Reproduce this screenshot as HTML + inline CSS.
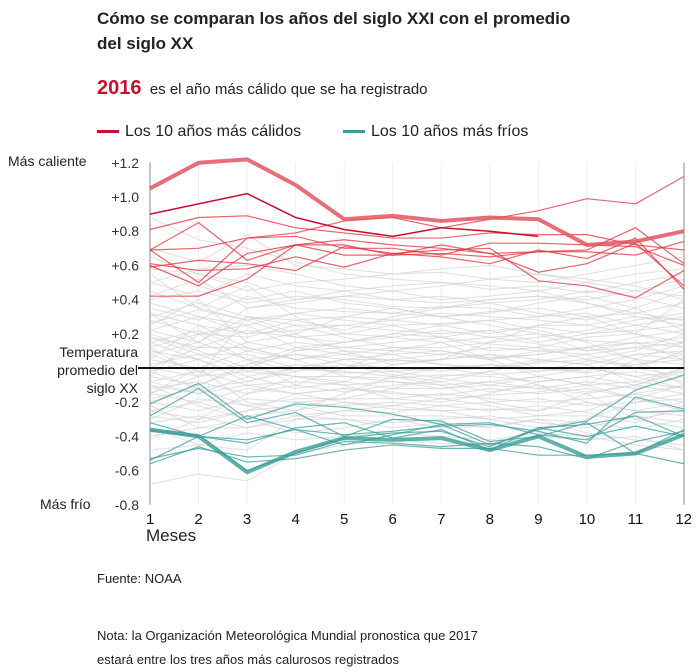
<!DOCTYPE html>
<html><head><meta charset="utf-8"><style>
body{margin:0;background:#fff;width:700px;height:668px;overflow:hidden;font-family:"Liberation Sans",Arial,sans-serif;color:#222;}
.t{position:absolute;white-space:nowrap}
</style></head><body>
<div class="t" style="left:97px;top:6px;font-size:17px;font-weight:bold;line-height:25px;">Cómo se comparan los años del siglo XXI con el promedio<br>del siglo XX</div>
<div class="t" style="left:97px;top:77px;font-size:15px;"><span style="color:#c8102e;font-weight:bold;font-size:20px;">2016</span>&nbsp; es el año más cálido que se ha registrado</div>
<div class="t" style="left:97px;top:123px;font-size:16px;"><span style="display:inline-block;width:22px;height:3px;background:#c8102e;vertical-align:middle;margin-right:6px;"></span>Los 10 años más cálidos</div>
<div class="t" style="left:343px;top:123px;font-size:16px;"><span style="display:inline-block;width:22px;height:3px;background:#3a9d99;vertical-align:middle;margin-right:6px;"></span>Los 10 años más fríos</div>
<div class="t" style="left:8px;top:153px;font-size:14px;">Más caliente</div>
<div class="t" style="right:562px;top:343px;font-size:14px;text-align:right;line-height:18px;">Temperatura<br>promedio del<br>siglo XX</div>
<div class="t" style="left:40px;top:496px;font-size:14px;">Más frío</div>
<div class="t" style="left:146px;top:526px;font-size:17px;">Meses</div>
<div class="t" style="left:97px;top:571px;font-size:13px;">Fuente: NOAA</div>
<div class="t" style="left:97px;top:624px;font-size:13px;line-height:24px;">Nota: la Organización Meteorológica Mundial pronostica que 2017<br>estará entre los tres años más calurosos registrados</div>
<svg id="c" width="700" height="668" style="position:absolute;left:0;top:0"></svg>
<script>
const months=[1,2,3,4,5,6,7,8,9,10,11,12];
const yTicks=[1.2,1.0,0.8,0.6,0.4,0.2,-0.2,-0.4,-0.6,-0.8];
const yTickLabels=["+1.2","+1.0","+0.8","+0.6","+0.4","+0.2","-0.2","-0.4","-0.6","-0.8"];
const gray=[
[0.88,0.75,0.70,0.62,0.55,0.52,0.50,0.48,0.45,0.50,0.55,0.58],
[0.70,0.62,0.78,0.60,0.58,0.55,0.56,0.52,0.55,0.52,0.48,0.40],
[0.58,0.55,0.45,0.50,0.52,0.55,0.58,0.60,0.55,0.50,0.45,0.42],
[0.50,0.42,0.55,0.48,0.45,0.48,0.50,0.46,0.48,0.44,0.50,0.55],
[0.40,0.45,0.38,0.42,0.40,0.36,0.35,0.38,0.40,0.45,0.42,0.35],
[0.35,0.28,0.42,0.35,0.33,0.32,0.30,0.33,0.35,0.30,0.32,0.38],
[0.30,0.38,0.30,0.28,0.30,0.28,0.32,0.30,0.28,0.25,0.30,0.28],
[0.28,0.20,0.25,0.32,0.28,0.25,0.26,0.28,0.30,0.32,0.25,0.20],
[0.22,0.30,0.20,0.22,0.25,0.22,0.20,0.22,0.24,0.20,0.22,0.25],
[0.18,0.12,0.22,0.18,0.20,0.18,0.15,0.18,0.20,0.16,0.14,0.18],
[0.15,0.22,0.10,0.15,0.12,0.15,0.18,0.14,0.12,0.18,0.20,0.12],
[0.10,0.05,0.15,0.10,0.12,0.10,0.08,0.12,0.10,0.08,0.12,0.15],
[0.08,0.15,0.05,0.08,0.05,0.08,0.10,0.06,0.08,0.12,0.05,0.02],
[0.05,0.00,0.10,0.05,0.08,0.04,0.05,0.08,0.05,0.02,0.08,0.10],
[0.02,0.08,-0.02,0.02,0.00,0.05,0.02,0.00,0.03,0.05,0.00,-0.05],
[0.00,-0.05,0.05,-0.02,0.02,0.00,-0.02,0.02,0.00,-0.03,0.02,0.05],
[-0.02,0.05,-0.05,0.00,-0.03,-0.02,0.00,-0.04,-0.02,0.00,-0.05,-0.02],
[-0.05,-0.10,0.00,-0.05,-0.05,-0.06,-0.04,-0.05,-0.08,-0.05,-0.02,-0.08],
[-0.08,-0.02,-0.10,-0.08,-0.10,-0.08,-0.10,-0.08,-0.05,-0.10,-0.08,-0.12],
[-0.10,-0.15,-0.05,-0.12,-0.08,-0.12,-0.12,-0.10,-0.12,-0.08,-0.12,-0.05],
[-0.12,-0.08,-0.15,-0.10,-0.14,-0.10,-0.08,-0.14,-0.10,-0.14,-0.10,-0.15],
[-0.15,-0.20,-0.12,-0.15,-0.12,-0.15,-0.16,-0.12,-0.15,-0.12,-0.18,-0.10],
[-0.18,-0.12,-0.22,-0.18,-0.18,-0.18,-0.15,-0.18,-0.20,-0.18,-0.15,-0.20],
[-0.20,-0.25,-0.18,-0.20,-0.22,-0.20,-0.22,-0.20,-0.18,-0.22,-0.20,-0.18],
[-0.25,-0.20,-0.28,-0.25,-0.20,-0.24,-0.25,-0.24,-0.25,-0.20,-0.25,-0.28],
[-0.28,-0.32,-0.25,-0.22,-0.28,-0.28,-0.28,-0.30,-0.28,-0.28,-0.30,-0.25],
[-0.32,-0.28,-0.35,-0.30,-0.30,-0.32,-0.30,-0.28,-0.32,-0.35,-0.28,-0.32],
[-0.40,-0.35,-0.30,-0.38,-0.35,-0.30,-0.35,-0.34,-0.30,-0.32,-0.36,-0.30],
[-0.48,-0.45,-0.38,-0.42,-0.40,-0.38,-0.40,-0.42,-0.38,-0.40,-0.45,-0.48],
[-0.68,-0.62,-0.66,-0.50,-0.45,-0.42,-0.44,-0.45,-0.40,-0.42,-0.40,-0.48],
[0.45,0.35,0.48,0.30,0.20,0.25,0.18,0.22,0.15,0.20,0.25,0.30],
[0.25,0.40,0.15,0.20,0.30,0.35,0.30,0.25,0.20,0.10,0.15,0.05],
[0.12,-0.05,0.30,0.20,0.10,0.02,0.05,0.15,0.25,0.30,0.20,0.40],
[-0.05,0.20,0.05,-0.10,0.00,0.10,0.15,0.05,-0.05,-0.10,0.05,0.15],
[0.60,0.48,0.40,0.45,0.38,0.35,0.30,0.32,0.38,0.42,0.35,0.45],
[-0.15,0.00,-0.20,-0.25,-0.15,-0.05,-0.10,-0.20,-0.25,-0.15,-0.30,-0.35],
[0.32,0.15,0.35,0.40,0.45,0.40,0.42,0.38,0.32,0.28,0.35,0.22],
[-0.25,-0.30,-0.15,-0.05,-0.10,-0.18,-0.20,-0.15,-0.08,-0.05,-0.10,0.00],
[0.50,0.58,0.60,0.55,0.48,0.45,0.48,0.52,0.50,0.55,0.60,0.65],
[0.20,0.10,0.00,0.10,0.15,0.20,0.25,0.28,0.22,0.15,0.05,-0.10],
[-0.35,-0.45,-0.48,-0.30,-0.25,-0.22,-0.25,-0.30,-0.35,-0.30,-0.20,-0.15],
[0.05,0.25,0.20,0.28,0.22,0.30,0.35,0.40,0.42,0.38,0.30,0.25],
[0.38,0.30,0.25,0.12,0.08,0.12,0.10,0.05,0.08,0.12,0.18,0.22],
[-0.10,-0.22,-0.30,-0.20,-0.18,-0.12,-0.05,-0.02,-0.10,-0.20,-0.25,-0.20],
[0.15,0.05,-0.08,0.00,0.05,-0.02,-0.06,-0.10,-0.05,0.00,-0.05,-0.12],
[-0.20,-0.10,0.02,0.08,0.02,-0.04,-0.08,-0.02,0.04,0.08,0.00,0.10],
[0.26,0.34,0.28,0.18,0.15,0.18,0.22,0.18,0.14,0.10,0.12,0.08],
[-0.30,-0.18,-0.22,-0.28,-0.25,-0.26,-0.22,-0.25,-0.22,-0.26,-0.32,-0.22],
[0.55,0.35,0.28,0.32,0.35,0.32,0.36,0.35,0.30,0.35,0.40,0.48],
[0.00,0.12,0.12,0.05,-0.05,-0.08,-0.12,-0.08,-0.12,-0.15,-0.10,-0.02],
[-0.42,-0.30,-0.25,-0.15,-0.20,-0.22,-0.18,-0.22,-0.28,-0.25,-0.15,-0.10],
[0.12,0.20,0.18,0.25,0.18,0.12,0.12,0.15,0.18,0.22,0.28,0.32],
[-0.08,-0.15,-0.10,-0.15,-0.12,-0.14,-0.18,-0.16,-0.14,-0.10,-0.18,-0.25],
[0.42,0.52,0.35,0.38,0.42,0.45,0.40,0.42,0.45,0.38,0.32,0.28],
[0.32,0.25,0.12,0.05,0.10,0.08,0.02,0.00,0.05,0.02,-0.08,0.00],
[-0.22,-0.35,-0.35,-0.28,-0.30,-0.35,-0.32,-0.35,-0.30,-0.38,-0.42,-0.45],
[0.08,-0.02,0.02,0.12,0.15,0.20,0.18,0.10,0.12,0.05,0.10,0.20],
[-0.15,-0.05,-0.02,-0.05,-0.08,0.02,0.05,0.08,0.00,-0.02,0.08,0.05],
[0.65,0.55,0.50,0.40,0.42,0.40,0.38,0.40,0.42,0.40,0.45,0.52],
[0.18,0.08,0.08,0.00,-0.02,-0.05,0.00,0.02,-0.02,0.04,0.02,0.08],
[-0.02,-0.12,-0.08,-0.02,0.05,0.05,0.08,0.05,0.10,0.12,0.15,0.12],
[0.22,0.15,0.30,0.25,0.25,0.28,0.25,0.20,0.25,0.25,0.20,0.15]
];
const warm=[
[0.81,0.88,0.89,0.82,0.79,0.76,0.76,0.79,0.78,0.78,0.72,0.69],
[0.69,0.70,0.76,0.79,0.86,0.88,0.82,0.87,0.92,0.99,0.96,1.12],
[0.69,0.85,0.63,0.72,0.75,0.72,0.70,0.67,0.68,0.69,0.82,0.61],
[0.60,0.48,0.67,0.72,0.72,0.66,0.72,0.67,0.56,0.61,0.73,0.48],
[0.69,0.50,0.76,0.77,0.70,0.70,0.66,0.73,0.73,0.72,0.71,0.60],
[0.59,0.63,0.61,0.57,0.71,0.67,0.69,0.70,0.51,0.48,0.41,0.57],
[0.42,0.42,0.52,0.72,0.66,0.66,0.67,0.65,0.68,0.68,0.66,0.74],
[0.61,0.57,0.58,0.65,0.59,0.67,0.65,0.61,0.69,0.64,0.76,0.46]
];
const year2016=[1.05,1.20,1.22,1.07,0.87,0.89,0.86,0.88,0.87,0.72,0.74,0.80];
const year2017=[0.90,0.96,1.02,0.88,0.81,0.77,0.82,0.80,0.77];
const cold=[
[-0.21,-0.09,-0.30,-0.21,-0.23,-0.27,-0.33,-0.45,-0.36,-0.31,-0.13,-0.04],
[-0.28,-0.12,-0.32,-0.26,-0.40,-0.30,-0.31,-0.43,-0.40,-0.32,-0.50,-0.36],
[-0.32,-0.40,-0.28,-0.36,-0.39,-0.37,-0.34,-0.33,-0.37,-0.44,-0.17,-0.24],
[-0.37,-0.40,-0.44,-0.35,-0.32,-0.41,-0.36,-0.48,-0.35,-0.33,-0.28,-0.40],
[-0.53,-0.47,-0.52,-0.51,-0.43,-0.44,-0.46,-0.44,-0.46,-0.53,-0.43,-0.37],
[-0.56,-0.46,-0.55,-0.53,-0.48,-0.45,-0.47,-0.47,-0.51,-0.51,-0.50,-0.56],
[-0.54,-0.40,-0.42,-0.36,-0.45,-0.39,-0.33,-0.32,-0.39,-0.42,-0.26,-0.25],
[-0.36,-0.39,-0.60,-0.50,-0.41,-0.38,-0.37,-0.46,-0.35,-0.40,-0.34,-0.40]
];
const coldest=[-0.36,-0.40,-0.61,-0.49,-0.41,-0.42,-0.41,-0.48,-0.40,-0.52,-0.50,-0.39];

const svg=document.getElementById('c');
const NS='http://www.w3.org/2000/svg';
const X0=150,X1=684,Y0=368,PU=171;
function xs(m){return X0+(m-1)*(X1-X0)/11;}
function ys(v){return Y0-v*PU;}
function mk(tag,attrs){const e=document.createElementNS(NS,tag);for(const k in attrs)e.setAttribute(k,attrs[k]);svg.appendChild(e);return e;}
months.forEach(m=>{
 const g=mk('line',{x1:xs(m),x2:xs(m),y1:ys(1.2),y2:ys(-0.8),stroke:m===1||m===12?'#888':'#eee','stroke-width':1});
 
 
 const t=mk('text',{x:xs(m),y:524,'text-anchor':m===12?'end':(m===1?'start':'middle'),'font-size':15,fill:'#111','font-family':'Liberation Sans, sans-serif'});
 if(m===1)t.setAttribute('x',xs(m)-4);
 if(m===12)t.setAttribute('x',xs(m)+8);
 t.textContent=m;
 
 
});
yTicks.forEach((v,i)=>{
 const t=mk('text',{x:139,y:ys(v)+5,'text-anchor':'end','font-size':14,fill:'#333','font-family':'Liberation Sans, sans-serif'});
 t.textContent=yTickLabels[i];
 
 
});
function path(vals,color,w,op,name){
 const d=vals.map((v,i)=>(i?'L':'M')+xs(months[i])+' '+ys(v)).join(' ');
 const p=mk('path',{d:d,fill:'none',stroke:color,'stroke-width':w,'stroke-opacity':op,'stroke-linejoin':'round'});
 
 
}
gray.forEach(s=>path(s,'#d2d2d2',1,0.7,'year-line-gray'));
warm.forEach(s=>path(s,'#e0303e',1.2,0.75,'year-line-warm'));
path(year2017,'#c8102e',1.5,1,'year-line-2017');
path(year2016,'#e25560',4,0.85,'year-line-2016');
cold.forEach(s=>path(s,'#3a9d99',1.2,0.75,'year-line-cold'));
path(coldest,'#3a9d99',4,0.8,'year-line-coldest');
const z=mk('line',{x1:138,x2:X1,y1:Y0,y2:Y0,stroke:'#111','stroke-width':2});


</script>
</body></html>
